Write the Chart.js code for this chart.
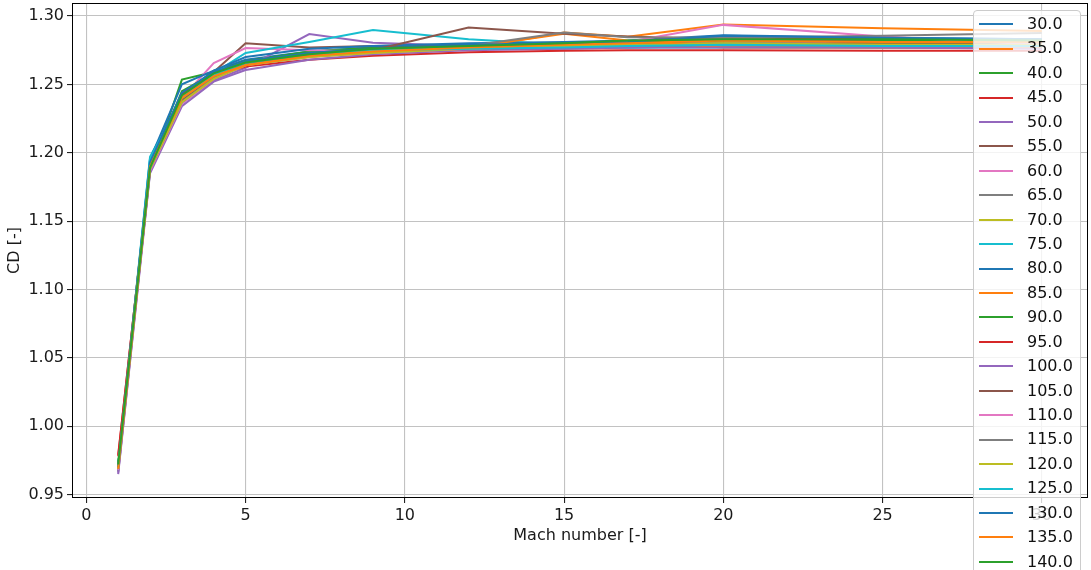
<!DOCTYPE html>
<html>
<head>
<meta charset="utf-8">
<script src="https://cdn.jsdelivr.net/npm/chart.js@4.4.1/dist/chart.umd.min.js"></script>
<style>
  html, body { margin: 0; padding: 0; background: #ffffff; overflow: hidden; }
  #wrap { position: relative; width: 1091px; height: 570px; overflow: hidden; }
  #legend {
    position: absolute; left: 973px; top: 10px; width: 108px; box-sizing: border-box;
    background: rgba(255, 255, 255, 0.8); border: 1px solid #cccccc; border-radius: 4px;
    padding: 1px 0 6px 0; font: 16px "DejaVu Sans", sans-serif; color: #111111;
  }
  #legend .item { position: relative; height: 24.45px; }
  #legend .swatch { position: absolute; left: 5px; top: 11.2px; width: 34px; height: 2px; }
  #legend .lbl { position: absolute; left: 53px; top: 0; line-height: 24.45px; white-space: nowrap; }
</style>
</head>
<body>
<div id="wrap">
  <canvas id="chart" width="1091" height="570"></canvas>
  <div id="legend"></div>
</div>
<script>
// Mach numbers at which the drag coefficient was evaluated
const mach = [1, 2, 3, 4, 5, 7, 9, 12, 15, 17, 20, 25, 30];

// Series labels (one curve per case)
const seriesLabels = ['30.0', '35.0', '40.0', '45.0', '50.0', '55.0', '60.0', '65.0', '70.0', '75.0',
  '80.0', '85.0', '90.0', '95.0', '100.0', '105.0', '110.0', '115.0', '120.0', '125.0',
  '130.0', '135.0', '140.0'];

// Drag coefficient CD for each case, one value per Mach number
const cd30  = [0.970, 1.192, 1.243, 1.260, 1.268, 1.274, 1.277, 1.279, 1.280, 1.281, 1.283, 1.281, 1.280];
const cd35  = [0.968, 1.189, 1.240, 1.257, 1.266, 1.272, 1.275, 1.276, 1.288, 1.2848, 1.2938, 1.291, 1.289];
const cd40  = [0.972, 1.186, 1.2535, 1.259, 1.267, 1.274, 1.277, 1.279, 1.280, 1.281, 1.282, 1.282, 1.281];
const cd45  = [0.978, 1.191, 1.242, 1.257, 1.265, 1.271, 1.275, 1.278, 1.280, 1.281, 1.2845, 1.283, 1.281];
const cd50  = [0.966, 1.187, 1.236, 1.253, 1.262, 1.2868, 1.2805, 1.278, 1.277, 1.277, 1.278, 1.277, 1.277];
const cd55  = [0.971, 1.189, 1.238, 1.259, 1.280, 1.277, 1.278, 1.279, 1.279, 1.280, 1.280, 1.280, 1.279];
const cd60  = [0.969, 1.190, 1.240, 1.2656, 1.2765, 1.275, 1.274, 1.276, 1.277, 1.278, 1.278, 1.278, 1.278];
const cd65  = [0.967, 1.188, 1.237, 1.255, 1.266, 1.271, 1.274, 1.277, 1.276, 1.277, 1.278, 1.277, 1.277];
const cd70  = [0.970, 1.190, 1.239, 1.256, 1.264, 1.270, 1.274, 1.277, 1.278, 1.279, 1.280, 1.279, 1.279];
const cd75  = [0.972, 1.197, 1.241, 1.258, 1.273, 1.281, 1.2898, 1.283, 1.279, 1.277, 1.277, 1.277, 1.277];
const cd80  = [0.971, 1.195, 1.250, 1.260, 1.270, 1.276, 1.278, 1.280, 1.281, 1.282, 1.286, 1.284, 1.283];
const cd85  = [0.970, 1.190, 1.241, 1.257, 1.265, 1.271, 1.275, 1.277, 1.287, 1.282, 1.277, 1.277, 1.277];
const cd90  = [0.973, 1.188, 1.245, 1.258, 1.267, 1.273, 1.276, 1.278, 1.280, 1.281, 1.282, 1.282, 1.282];
const cd95  = [0.979, 1.190, 1.243, 1.256, 1.263, 1.268, 1.271, 1.2735, 1.2745, 1.275, 1.275, 1.2745, 1.2745];
const cd100 = [0.965, 1.185, 1.234, 1.252, 1.2605, 1.268, 1.272, 1.275, 1.276, 1.277, 1.277, 1.277, 1.276];
const cd105 = [0.970, 1.188, 1.238, 1.255, 1.265, 1.271, 1.275, 1.2915, 1.287, 1.285, 1.283, 1.281, 1.280];
const cd110 = [0.968, 1.187, 1.236, 1.254, 1.264, 1.270, 1.273, 1.276, 1.278, 1.281, 1.2935, 1.285, 1.279];
const cd115 = [0.969, 1.188, 1.237, 1.255, 1.265, 1.271, 1.275, 1.278, 1.288, 1.2845, 1.284, 1.2855, 1.2875];
const cd120 = [0.969, 1.188, 1.237, 1.254, 1.264, 1.270, 1.273, 1.276, 1.278, 1.279, 1.279, 1.279, 1.279];
const cd125 = [0.971, 1.196, 1.240, 1.257, 1.266, 1.272, 1.275, 1.276, 1.277, 1.278, 1.279, 1.278, 1.278];
const cd130 = [0.970, 1.193, 1.244, 1.259, 1.267, 1.273, 1.276, 1.279, 1.280, 1.281, 1.2855, 1.284, 1.283];
const cd135 = [0.969, 1.190, 1.240, 1.256, 1.264, 1.271, 1.274, 1.277, 1.279, 1.280, 1.282, 1.281, 1.281];
const cd140 = [0.972, 1.189, 1.242, 1.258, 1.266, 1.272, 1.276, 1.278, 1.280, 1.282, 1.283, 1.283, 1.282];

const cdSeries = [cd30, cd35, cd40, cd45, cd50, cd55, cd60, cd65, cd70, cd75, cd80, cd85,
  cd90, cd95, cd100, cd105, cd110, cd115, cd120, cd125, cd130, cd135, cd140];

// Axis tick values
const xTicks = [0, 5, 10, 15, 20, 25, 30];
const yTicks = [0.95, 1.00, 1.05, 1.10, 1.15, 1.20, 1.25, 1.30];

// Default ten-colour cycle
const palette = ['#1f77b4', '#ff7f0e', '#2ca02c', '#d62728', '#9467bd',
  '#8c564b', '#e377c2', '#7f7f7f', '#bcbd22', '#17becf'];

const datasets = cdSeries.map((vals, i) => ({
  label: seriesLabels[i],
  data: vals.map((v, j) => ({ x: mach[j], y: v })),
  borderColor: palette[i % palette.length],
  backgroundColor: palette[i % palette.length],
  borderWidth: 2,
  pointRadius: 0,
  tension: 0,
  fill: false,
  order: cdSeries.length - i   // later curves drawn on top
}));

// Black frame around the plotting area
const framePlugin = {
  id: 'frame',
  afterDatasetsDraw(chart) {
    const { ctx, chartArea: a } = chart;
    ctx.save();
    ctx.strokeStyle = '#000000';
    ctx.lineWidth = 1;
    ctx.strokeRect(Math.round(a.left) + 0.5, Math.round(a.top) + 0.5,
      Math.round(a.right - a.left) - 1, Math.round(a.bottom - a.top) - 1);
    ctx.restore();
  }
};

const tickFont = { family: 'DejaVu Sans', size: 16 };
const gridStyle = { color: '#c2c2c2', lineWidth: 1.1, tickLength: 5, tickColor: '#222222', drawTicks: true };

const chart = new Chart(document.getElementById('chart'), {
  type: 'line',
  data: { datasets },
  plugins: [framePlugin],
  options: {
    responsive: false,
    animation: false,
    events: [],
    layout: { padding: { top: 3, right: 3, left: 0, bottom: 0 } },
    plugins: { legend: { display: false }, tooltip: { enabled: false } },
    scales: {
      x: {
        type: 'linear',
        min: -0.45,
        max: 31.45,
        afterBuildTicks: s => { s.ticks = xTicks.map(v => ({ value: v })); },
        afterFit: s => { s.height = 72; s.paddingLeft = 0; s.paddingRight = 0; },
        ticks: { font: tickFont, color: '#1a1a1a', padding: 3, maxRotation: 0, callback: v => String(v) },
        grid: gridStyle,
        border: { display: false },
        title: { display: true, text: 'Mach number [-]', font: tickFont, color: '#1a1a1a', padding: { top: 0, bottom: 25 } }
      },
      y: {
        type: 'linear',
        min: 0.9475,
        max: 1.3095,
        afterBuildTicks: s => { s.ticks = yTicks.map(v => ({ value: v })); },
        afterFit: s => { s.width = 72; s.paddingTop = 0; s.paddingBottom = 0; },
        ticks: { font: tickFont, color: '#1a1a1a', padding: 3, callback: v => Number(v).toFixed(2) },
        grid: gridStyle,
        border: { display: false },
        title: { display: true, text: 'CD [-]', font: tickFont, color: '#1a1a1a', padding: { top: 5, bottom: 0 } }
      }
    }
  }
});

// Legend built from the chart's own datasets
const legend = document.getElementById('legend');
chart.data.datasets.forEach(ds => {
  const item = document.createElement('div');
  item.className = 'item';
  const sw = document.createElement('div');
  sw.className = 'swatch';
  sw.style.background = ds.borderColor;
  const lbl = document.createElement('div');
  lbl.className = 'lbl';
  lbl.textContent = ds.label;
  item.appendChild(sw);
  item.appendChild(lbl);
  legend.appendChild(item);
});
</script>
</body>
</html>
